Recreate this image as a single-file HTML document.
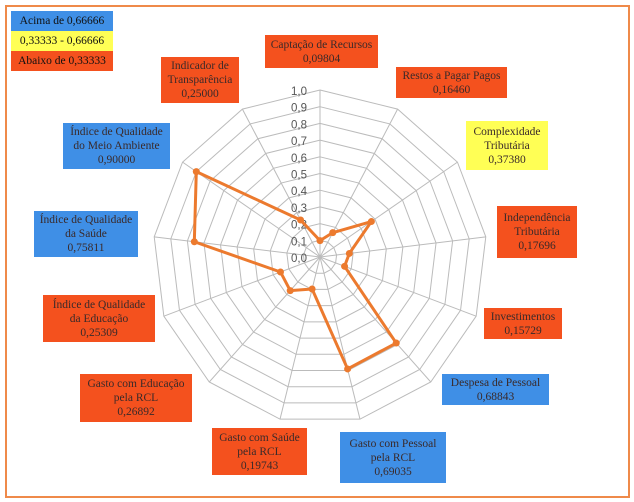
<!DOCTYPE html>
<html><head><meta charset="utf-8"><style>
body{margin:0;background:#fff;width:634px;height:502px;overflow:hidden;position:relative;font-family:"Liberation Serif","Times New Roman",serif;}
.f{position:absolute;left:5px;top:5px;width:621px;height:489px;border:2px solid #ef8a4a;}
.b{position:absolute;font-family:"Liberation Serif",serif;font-size:11.5px;line-height:14px;color:#3a2a2a;text-align:center;display:flex;flex-direction:column;justify-content:center;}
.r{background:#f4511e;}.u{background:#3f8fe6;}.y{background:#ffff55;}
.l{position:absolute;font-family:"Liberation Serif",serif;font-size:11.5px;color:#111;text-align:center;line-height:20px;width:102px;left:11px;}
svg{position:absolute;left:0;top:0;}
</style></head><body>
<div class="f"></div>
<svg id="s" width="634" height="502"></svg>
<div class="l u" style="top:11px;height:20px">Acima de 0,66666</div>
<div class="l y" style="top:31px;height:20px">0,33333 - 0,66666</div>
<div class="l r" style="top:51px;height:20px">Abaixo de 0,33333</div>
<div class="b r" style="left:265px;top:35px;width:113px;height:33px">Captação de Recursos<br>0,09804</div>
<div class="b r" style="left:396px;top:67px;width:111px;height:31px">Restos a Pagar Pagos<br>0,16460</div>
<div class="b y" style="left:466px;top:121px;width:82px;height:49px">Complexidade<br>Tributária<br>0,37380</div>
<div class="b r" style="left:497px;top:206px;width:80px;height:52px">Independência<br>Tributária<br>0,17696</div>
<div class="b r" style="left:484px;top:308px;width:78px;height:31px">Investimentos<br>0,15729</div>
<div class="b u" style="left:442px;top:374px;width:107px;height:31px">Despesa de Pessoal<br>0,68843</div>
<div class="b u" style="left:340px;top:432px;width:106px;height:51px">Gasto com Pessoal<br>pela RCL<br>0,69035</div>
<div class="b r" style="left:212px;top:428px;width:95px;height:47px">Gasto com Saúde<br>pela RCL<br>0,19743</div>
<div class="b r" style="left:80px;top:374px;width:112px;height:48px">Gasto com Educação<br>pela RCL<br>0,26892</div>
<div class="b r" style="left:43px;top:295px;width:112px;height:47px">Índice de Qualidade<br>da Educação<br>0,25309</div>
<div class="b u" style="left:34px;top:211px;width:104px;height:46px">Índice de Qualidade<br>da Saúde<br>0,75811</div>
<div class="b u" style="left:63px;top:123px;width:107px;height:46px">Índice de Qualidade<br>do Meio Ambiente<br>0,90000</div>
<div class="b r" style="left:161px;top:57px;width:78px;height:46px">Indicador de<br>Transparência<br>0,25000</div>
<script>
var s=document.getElementById('s'),cx=320,cy=257,R=167,N=13,h='';
function p(i,v){var a=2*Math.PI*i/N;return [cx+R*v*Math.sin(a),cy-R*v*Math.cos(a)];}
for(var k=1;k<=10;k++){var pts=[];for(var i=0;i<N;i++){pts.push(p(i,k/10).join(','));}h+='<polygon points="'+pts.join(' ')+'" fill="none" stroke="#bbb" stroke-width="1"/>';}
for(var i=0;i<N;i++){var q=p(i,1);h+='<line x1="'+cx+'" y1="'+cy+'" x2="'+q[0]+'" y2="'+q[1]+'" stroke="#bbb"/>';}
for(var k=0;k<=10;k++){h+='<text x="307" y="'+(cy-R*k/10+5)+'" font-family="Liberation Sans,sans-serif" font-size="11.5" fill="#555" text-anchor="end">'+(k/10).toFixed(1).replace('.',',')+'</text>';}
var V=[0.09804,0.16460,0.37380,0.17696,0.15729,0.68843,0.69035,0.19743,0.26892,0.25309,0.75811,0.90000,0.25000],pts=[];
for(var i=0;i<N;i++){pts.push(p(i,V[i]).join(','));}
h+='<polygon points="'+pts.join(' ')+'" fill="none" stroke="#ec7a2e" stroke-width="3" stroke-linejoin="round"/>';
for(var i=0;i<N;i++){var q=p(i,V[i]);h+='<circle cx="'+q[0]+'" cy="'+q[1]+'" r="3.5" fill="#ec7a2e"/>';}
s.innerHTML=h;
</script>
</body></html>
